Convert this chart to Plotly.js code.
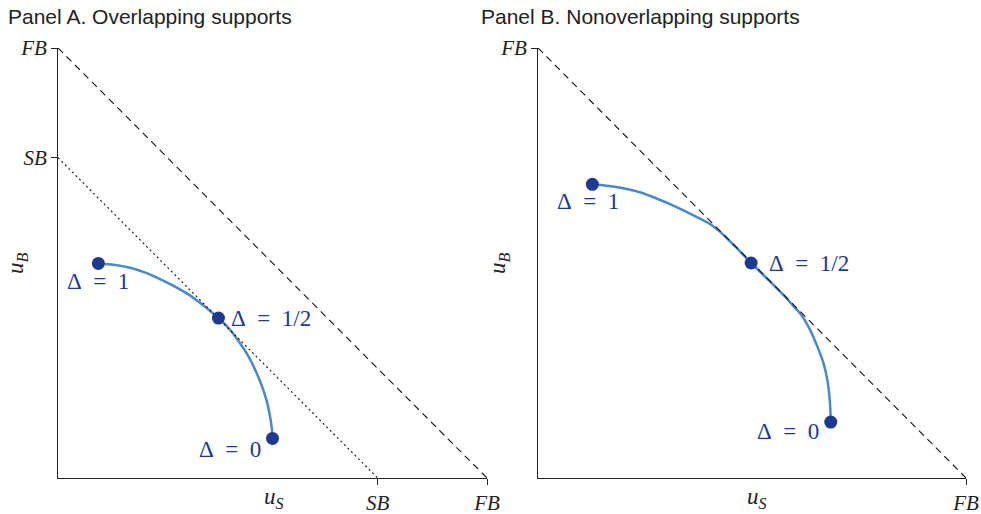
<!DOCTYPE html>
<html>
<head>
<meta charset="utf-8">
<script src="https://cdn.plot.ly/plotly-3.0.1.min.js"></script>
<style>html,body{margin:0;padding:0;background:#fff;}#chart{width:981px;height:514px;}</style>
</head>
<body>
<div id="chart"></div>
<script>
// ---- Data ----
const FB = 1.0;
const SB = 0.745;
const tickLabelsA = ["SB", "FB"];
const tickLabelsB = ["FB"];
const deltaLabels = ["Δ\u2002=\u20021", "Δ\u2002=\u20021/2", "Δ\u2002=\u20020"];

// Panel A: utility frontier (Overlapping supports)
const curveA_x = [0.094, 0.130, 0.168, 0.205, 0.245, 0.280, 0.310, 0.342, 0.374, 0.400, 0.424, 0.445, 0.463, 0.476, 0.486, 0.493, 0.498, 0.500];
const curveA_y = [0.499, 0.496, 0.489, 0.477, 0.459, 0.441, 0.423, 0.399, 0.372, 0.346, 0.314, 0.281, 0.244, 0.212, 0.181, 0.150, 0.119, 0.092];
const pointsA_x = [0.094, 0.374, 0.500];
const pointsA_y = [0.499, 0.372, 0.092];

// Panel B: utility frontier (Nonoverlapping supports)
const curveB_x = [0.127, 0.165, 0.199, 0.240, 0.277, 0.315, 0.347, 0.375, 0.400, 0.425, 0.460, 0.498, 0.540, 0.575, 0.595, 0.614, 0.636, 0.653, 0.667, 0.676, 0.681, 0.683, 0.684];
const curveB_y = [0.683, 0.679, 0.674, 0.664, 0.650, 0.634, 0.619, 0.605, 0.592, 0.573, 0.539, 0.500, 0.459, 0.424, 0.402, 0.381, 0.344, 0.305, 0.267, 0.228, 0.189, 0.160, 0.130];
const pointsB_x = [0.127, 0.498, 0.684];
const pointsB_y = [0.683, 0.500, 0.130];

// ---- Styles ----
const curveColor = "#4a88cc";
const dotColor = "#1d3a8f";
const serif = "Liberation Serif, DejaVu Serif, serif";
const sans = "Liberation Sans, Arial, sans-serif";

function curve(x, y, xa, ya) {
  return {x: x, y: y, xaxis: xa, yaxis: ya, mode: "lines", type: "scatter",
    line: {color: curveColor, width: 2.5, shape: "spline", smoothing: 0.6}, hoverinfo: "skip", showlegend: false};
}
function diag(v, dash, xa, ya) {
  return {x: [0, v], y: [v, 0], xaxis: xa, yaxis: ya, mode: "lines", type: "scatter",
    line: {color: "#111", width: 1.1, dash: dash}, hoverinfo: "skip", showlegend: false};
}
function dots(x, y, xa, ya) {
  return {x: x, y: y, xaxis: xa, yaxis: ya, mode: "markers", type: "scatter",
    marker: {color: dotColor, size: 13}, hoverinfo: "skip", showlegend: false};
}

const traces = [
  curve(curveA_x, curveA_y, "x", "y"),
  diag(SB, "2px,3px", "x", "y"),
  diag(FB, "7px,5px", "x", "y"),
  dots(pointsA_x, pointsA_y, "x", "y"),
  curve(curveB_x, curveB_y, "x2", "y2"),
  diag(FB, "7px,5px", "x2", "y2"),
  dots(pointsB_x, pointsB_y, "x2", "y2")
];

function ital(s) { return "<i>" + s + "</i>"; }

const axBase = {
  range: [0, 1], showgrid: false, zeroline: false, showline: true,
  linecolor: "#222", linewidth: 1, ticks: "outside", ticklen: 6, tickwidth: 1, tickcolor: "#222",
  tickfont: {family: serif, size: 21, color: "#222"}, fixedrange: true
};

const yDom = [36/514, 466/514];
const layout = {
  width: 981, height: 514,
  margin: {l: 0, r: 0, t: 0, b: 0},
  paper_bgcolor: "#fff", plot_bgcolor: "#fff",
  showlegend: false,
  xaxis: Object.assign({}, axBase, {domain: [58/981, 487/981], anchor: "y",
    tickvals: [SB, FB], ticktext: tickLabelsA.map(ital)}),
  yaxis: Object.assign({}, axBase, {domain: yDom, anchor: "x",
    tickvals: [SB, FB], ticktext: tickLabelsA.map(ital)}),
  xaxis2: Object.assign({}, axBase, {domain: [538/981, 966/981], anchor: "y2",
    tickvals: [FB], ticktext: tickLabelsB.map(ital)}),
  yaxis2: Object.assign({}, axBase, {domain: yDom, anchor: "x2",
    tickvals: [FB], ticktext: tickLabelsB.map(ital)}),
  annotations: [
    {text: "Panel A. Overlapping supports", xref: "paper", yref: "paper", x: 6/981, y: 1 - 17/514,
      xanchor: "left", yanchor: "middle", showarrow: false, font: {family: sans, size: 21, color: "#222"}},
    {text: "Panel B. Nonoverlapping supports", xref: "paper", yref: "paper", x: 479/981, y: 1 - 17/514,
      xanchor: "left", yanchor: "middle", showarrow: false, font: {family: sans, size: 21, color: "#222"}},
    {text: "<i>u<sub>S</sub></i>", xref: "paper", yref: "paper", x: 274/981, y: 1 - 498/514,
      xanchor: "center", yanchor: "middle", showarrow: false, font: {family: serif, size: 23, color: "#222"}},
    {text: "<i>u<sub>S</sub></i>", xref: "paper", yref: "paper", x: 757/981, y: 1 - 498/514,
      xanchor: "center", yanchor: "middle", showarrow: false, font: {family: serif, size: 23, color: "#222"}},
    {text: "<i>u<sub>B</sub></i>", xref: "paper", yref: "paper", x: 17/981, y: 1 - 263/514, textangle: -90,
      xanchor: "center", yanchor: "middle", showarrow: false, font: {family: serif, size: 23, color: "#222"}},
    {text: "<i>u<sub>B</sub></i>", xref: "paper", yref: "paper", x: 499/981, y: 1 - 263/514, textangle: -90,
      xanchor: "center", yanchor: "middle", showarrow: false, font: {family: serif, size: 23, color: "#222"}},
    // Delta labels panel A
    {text: deltaLabels[0], xref: "x", yref: "y", x: 0.093, y: 0.456, xanchor: "center", yanchor: "middle",
      showarrow: false, font: {family: serif, size: 23, color: dotColor}},
    {text: deltaLabels[1], xref: "x", yref: "y", x: 0.399, y: 0.372, xanchor: "left", yanchor: "middle",
      showarrow: false, font: {family: serif, size: 23, color: dotColor}},
    {text: deltaLabels[2], xref: "x", yref: "y", x: 0.478, y: 0.067, xanchor: "right", yanchor: "middle",
      showarrow: false, font: {family: serif, size: 23, color: dotColor}},
    // Delta labels panel B
    {text: deltaLabels[0], xref: "x2", yref: "y2", x: 0.117, y: 0.644, xanchor: "center", yanchor: "middle",
      showarrow: false, font: {family: serif, size: 23, color: dotColor}},
    {text: deltaLabels[1], xref: "x2", yref: "y2", x: 0.535, y: 0.498, xanchor: "left", yanchor: "middle",
      showarrow: false, font: {family: serif, size: 23, color: dotColor}},
    {text: deltaLabels[2], xref: "x2", yref: "y2", x: 0.661, y: 0.107, xanchor: "right", yanchor: "middle",
      showarrow: false, font: {family: serif, size: 23, color: dotColor}}
  ]
};

Plotly.newPlot("chart", traces, layout, {staticPlot: true, displayModeBar: false});
</script>
</body>
</html>
